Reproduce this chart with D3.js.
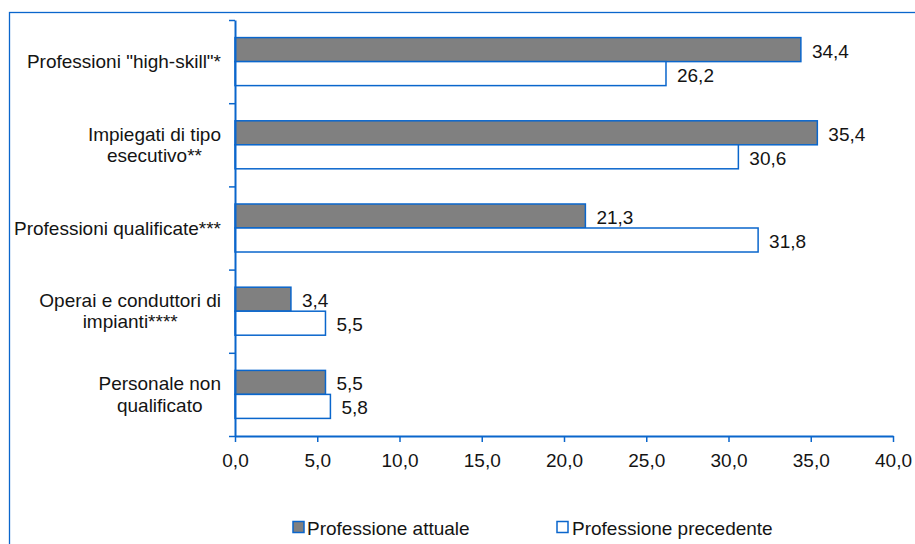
<!DOCTYPE html>
<html>
<head>
<meta charset="utf-8">
<script src="https://cdn.jsdelivr.net/npm/d3@7"></script>
<style>
  html, body { margin: 0; padding: 0; background: #fff; }
  svg { display: block; }
  text { font-family: "Liberation Sans", Arial, sans-serif; fill: #141414; }
</style>
</head>
<body>
<svg id="chart" width="915" height="544"></svg>
<script>
// ---- data ----
const categories = [
  'Professioni "high-skill"*',
  'Impiegati di tipo\nesecutivo**',
  'Professioni qualificate***',
  'Operai e conduttori di\nimpianti****',
  'Personale non\nqualificato'
];
const seriesNames = ["Professione attuale", "Professione precedente"];
const attuale = [34.4, 35.4, 21.3, 3.4, 5.5];
const precedente = [26.2, 30.6, 31.8, 5.5, 5.8];
const xTicks = [0, 5, 10, 15, 20, 25, 30, 35, 40];

// ---- styles ----
const BLUE = "#0a66cc";
const DARK = "#808080";
const FS = 19;

const svg = d3.select("#chart");

// frame
svg.append("rect")
  .attr("x", 9.5).attr("y", 12.5)
  .attr("width", 940).attr("height", 600)
  .attr("fill", "none").attr("stroke", BLUE).attr("stroke-width", 1.3);

const x = d3.scaleLinear().domain([0, 40]).range([235, 893]);
const y = d3.scaleBand().domain(categories).range([20, 436]).padding(0);
const sub = d3.scaleBand().domain(seriesNames).range([0, y.bandwidth()])
  .paddingInner(0).paddingOuter(0.733);
const yIdx = d3.scaleLinear().domain([0, categories.length]).range([20, 436]);

const rows = categories.map((c, i) => ({ c, vals: [attuale[i], precedente[i]] }));

// bars
const g = svg.append("g");
rows.forEach(r => {
  r.vals.forEach((v, j) => {
    const yy = y(r.c) + sub(seriesNames[j]);
    g.append("rect")
      .attr("x", x(0))
      .attr("y", yy)
      .attr("width", x(v) - x(0))
      .attr("height", sub.bandwidth())
      .attr("fill", j === 0 ? DARK : "#fff")
      .attr("stroke", BLUE)
      .attr("stroke-width", 1.5);
    g.append("text")
      .attr("x", x(v) + 11)
      .attr("y", yy + sub.bandwidth() / 2 + 8)
      .attr("font-size", FS)
      .text(v.toFixed(1).replace(".", ","));
  });
});

// y axis (ticks at category boundaries)
const yAxis = svg.append("g")
  .attr("transform", `translate(${x(0)},0)`)
  .call(d3.axisLeft(yIdx).tickValues(d3.range(categories.length + 1)).tickFormat("").tickSize(6).tickSizeOuter(0));
yAxis.select(".domain").attr("stroke", BLUE).attr("stroke-width", 2);
yAxis.selectAll(".tick line").attr("stroke", BLUE).attr("stroke-width", 1.5);

// x axis
const xAxis = svg.append("g")
  .attr("transform", `translate(0,436)`)
  .call(d3.axisBottom(x).tickValues(xTicks)
    .tickFormat(d => d.toFixed(1).replace(".", ","))
    .tickSize(6).tickSizeOuter(0).tickPadding(11.5));
xAxis.select(".domain").attr("stroke", BLUE).attr("stroke-width", 2);
xAxis.selectAll(".tick line").attr("stroke", BLUE).attr("stroke-width", 1.5);
xAxis.selectAll(".tick text")
  .attr("font-size", FS)
  .attr("font-family", '"Liberation Sans", Arial, sans-serif')
  .attr("fill", "#141414");

// category labels: right-aligned block, lines centered within block
const labelRight = 221;
const lineH = 21.5;
categories.forEach(c => {
  const lines = c.split("\n");
  const cy = y(c) + y.bandwidth() / 2;
  const tg = svg.append("g");
  const texts = lines.map((ln, k) => tg.append("text")
    .attr("font-size", FS)
    .attr("text-anchor", "middle")
    .attr("y", cy + 6.5 + (k - (lines.length - 1) / 2) * lineH)
    .text(ln));
  const maxW = d3.max(texts, t => t.node().getComputedTextLength());
  texts.forEach(t => t.attr("x", labelRight - maxW / 2));
});

// legend
const legend = [
  { name: seriesNames[0], fill: DARK, sx: 293, tx: 307 },
  { name: seriesNames[1], fill: "#fff", sx: 557, tx: 572 }
];
legend.forEach(l => {
  svg.append("rect")
    .attr("x", l.sx).attr("y", 521.5)
    .attr("width", 11).attr("height", 11)
    .attr("fill", l.fill).attr("stroke", BLUE).attr("stroke-width", 1.5);
  svg.append("text")
    .attr("x", l.tx).attr("y", 535)
    .attr("font-size", FS)
    .text(l.name);
});
</script>
</body>
</html>
